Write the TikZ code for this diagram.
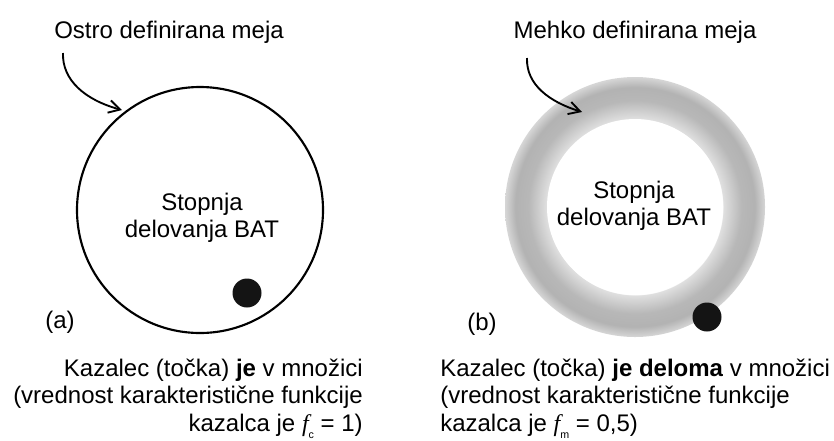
\documentclass[tikz,border=0pt]{standalone}
\usepackage{fontspec}
\setmainfont{Liberation Sans}
\newfontfamily\fserif{Liberation Serif}
\usetikzlibrary{arrows.meta}

% grey band that fades out towards both of its edges
\pgfdeclareradialshading{softedge}{\pgfpoint{0bp}{0bp}}{%
  color(0bp)=(white); color(16.8bp)=(white);
  color(16.9bp)=(black!12); color(20.5bp)=(black!28);
  color(23bp)=(black!30); color(25bp)=(black!16);
  color(50bp)=(white)}

% characteristic function symbol with its index
\newcommand{\fsym}[1]{{\fserif\itshape f}\raisebox{-0.3em}{\fontsize{8pt}{8pt}\selectfont #1}}

\tikzset{
  lbl/.style={inner sep=0pt, font=\fontsize{18pt}{21pt}\selectfont},
  rim/.style={line width=1.6pt},
  pointer/.style={line width=1.4pt, -{Straight Barb[length=8.5pt,width=9.5pt]}},
  dot/.style={fill=black!92},
}

\begin{document}
\begin{tikzpicture}[x=0.75pt,y=0.75pt,yscale=-1,xscale=1]
\useasboundingbox (0,0) rectangle (834,440);

%% (a) crisp set
\draw[rim] (200,210) circle (123);
\fill[dot] (247,293) circle (14.5);

\node[lbl, anchor=base] (crispLbl) at (169,38) {Ostro definirana meja};
\coordinate (crispFrom) at (63,53);
\coordinate (crispTo) at (122,110);
\draw[pointer] (crispFrom) .. controls (62,80) and (85,100) .. (crispTo);

\node[lbl, anchor=base] (crispIn1) at (202,210) {Stopnja};
\node[lbl, anchor=base] (crispIn2) at (202,237) {delovanja BAT};
\node[lbl, anchor=base west] (tagA) at (45,328) {(a)};

\node[lbl, anchor=base east] (capA1) at (363,376) {Kazalec (točka) \textbf{je} v množici};
\node[lbl, anchor=base east] (capA2) at (363,403.5) {(vrednost karakteristične funkcije};
\node[lbl, anchor=base east] (capA3) at (363,431) {kazalca je \fsym{c} = 1)};

%% (b) fuzzy set
\shade[shading=softedge] (635,207) circle (130);
\fill[white] (635,207) circle (88);
\fill[dot] (707,317) circle (14.5);

\node[lbl, anchor=base] (fuzzyLbl) at (635,38) {Mehko definirana meja};
\coordinate (fuzzyFrom) at (527,58);
\coordinate (fuzzyTo) at (582,112);
\draw[pointer] (fuzzyFrom) .. controls (526,85) and (550,102) .. (fuzzyTo);

\node[lbl, anchor=base] (fuzzyIn1) at (634,198) {Stopnja};
\node[lbl, anchor=base] (fuzzyIn2) at (634,225) {delovanja BAT};
\node[lbl, anchor=base west] (tagB) at (467,330) {(b)};

\node[lbl, anchor=base west] (capB1) at (440,376) {Kazalec (točka) \textbf{je deloma} v množici};
\node[lbl, anchor=base west] (capB2) at (440,403.5) {(vrednost karakteristične funkcije};
\node[lbl, anchor=base west] (capB3) at (440,431) {kazalca je \fsym{m} = 0,5)};
\end{tikzpicture}
\end{document}
